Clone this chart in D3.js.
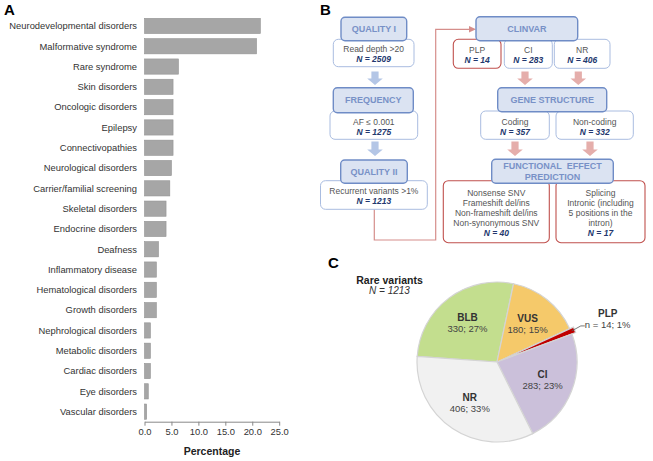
<!DOCTYPE html>
<html>
<head>
<meta charset="utf-8">
<script src="https://cdn.jsdelivr.net/npm/d3@7"></script>
<style>
  body { margin: 0; background: #fff; }
  svg { display: block; font-family: "Liberation Sans", Arial, sans-serif; }
</style>
</head>
<body>
<div id="chart"></div>
<script>
// Panel A data
const disorders = ["Neurodevelopmental disorders", "Malformative syndrome", "Rare syndrome", "Skin disorders",
  "Oncologic disorders", "Epilepsy", "Connectivopathies", "Neurological disorders", "Carrier/familial screening",
  "Skeletal disorders", "Endocrine disorders", "Deafness", "Inflammatory disease", "Hematological disorders",
  "Growth disorders", "Nephrological disorders", "Metabolic disorders", "Cardiac disorders", "Eye disorders",
  "Vascular disorders"];
const percentages = [21.5, 20.8, 6.3, 5.3, 5.3, 5.3, 5.3, 5.0, 4.7, 4.0, 4.0, 2.6, 2.2, 2.2, 2.2, 1.1, 1.1, 1.1, 0.7, 0.4];
const xTicks = [0, 5, 10, 15, 20, 25];

// Panel B texts
const headerTexts = ["QUALITY I", "FREQUENCY", "QUALITY II", "CLINVAR", "GENE STRUCTURE", "FUNCTIONAL  EFFECT|PREDICTION"];
const boxLines = [
  ["Read depth >20"], ["AF ≤ 0.001"], ["Recurrent variants >1%"],
  ["PLP"], ["CI"], ["NR"], ["Coding"], ["Non-coding"],
  ["Nonsense SNV", "Frameshift del/ins", "Non-frameshift del/ins", "Non-synonymous SNV"],
  ["Splicing", "Intronic (including", "5 positions in the", "intron)"]
];
const boxN = [2509, 1275, 1213, 14, 283, 406, 357, 332, 40, 17];

// Panel C data
const pieCategories = ["BLB", "VUS", "PLP", "CI", "NR"];
const pieCounts = [330, 180, 14, 283, 406];
const piePercents = [27, 15, 1, 23, 33];
const pieColors = ["#c3de8e", "#f5c96a", "#c00000", "#cbc0da", "#f1f1f1"];

const W = 653, H = 461;
const svg = d3.select("#chart").append("svg").attr("width", W).attr("height", H);

// ---------- Panel A ----------
svg.append("text").attr("x", 4).attr("y", 15).attr("font-size", 15).attr("font-weight", "bold").text("A");

const x = d3.scaleLinear().domain([0, 25]).range([144.5, 279.2]);
const y = d3.scaleBand().domain(disorders).range([15.8, 421.8]).paddingInner(0.25).paddingOuter(0.125);

const gA = svg.append("g");
gA.selectAll("rect.bar")
  .data(disorders)
  .enter().append("rect")
  .attr("class", "bar")
  .attr("x", x(0))
  .attr("y", d => y(d))
  .attr("width", (d, i) => x(percentages[i]) - x(0))
  .attr("height", y.bandwidth())
  .attr("fill", "#a6a6a6")
  .attr("stroke", "#939393")
  .attr("stroke-width", 0.6);

gA.selectAll("text.lab")
  .data(disorders)
  .enter().append("text")
  .attr("class", "lab")
  .attr("x", 137)
  .attr("y", d => y(d) + y.bandwidth() / 2)
  .attr("dy", "0.35em")
  .attr("text-anchor", "end")
  .attr("font-size", 9.4)
  .attr("fill", "#333")
  .text(d => d);

const xAxis = gA.append("g")
  .attr("transform", "translate(0,421.7)")
  .call(d3.axisBottom(x).tickValues(xTicks).tickFormat(d3.format(".1f")).tickSize(4).tickSizeOuter(0));
xAxis.select(".domain").attr("stroke", "#888");
xAxis.selectAll(".tick line").attr("stroke", "#888");
xAxis.selectAll(".tick text").attr("font-size", 9.4).attr("fill", "#333").attr("font-family", "Liberation Sans, Arial, sans-serif");

gA.append("text").attr("x", 212).attr("y", 455).attr("text-anchor", "middle")
  .attr("font-size", 10.5).attr("font-weight", "bold").attr("fill", "#222").text("Percentage");

// ---------- Panel B ----------
svg.append("text").attr("x", 320).attr("y", 15).attr("font-size", 15).attr("font-weight", "bold").text("B");

const gB = svg.append("g");
const blueSub = "#a9bce0", redSub = "#c0504d";
const lineRed = "#d58e8b";

// layout of the flowchart boxes [x0, y0, x1, y1]
const boxLayout = [
  [333.3, 39.3, 414, 66.7], [330, 111, 417.7, 139.3], [320.5, 180.7, 427.3, 209.3],
  [453.3, 39.3, 501, 68.3], [504.3, 39.3, 552.3, 68.3], [554.3, 39.3, 610, 68.3],
  [480.7, 111, 549.3, 139.3], [556, 111, 633.3, 139.3],
  [443.3, 180.7, 549.3, 242.7], [556, 180.7, 645, 242.7]
];
const boxRed = [false, false, false, true, false, false, false, false, true, true];
const headerLayout = [
  [341, 17.3, 406.7, 40.7], [333.3, 87.7, 413.3, 112.7], [340.7, 160, 407.3, 183.3],
  [476, 16.7, 577.7, 40.7], [497.7, 87.7, 606.7, 111.7], [491.7, 159.3, 613.3, 183.3]
];

// connector line QUALITY II -> CLINVAR
gB.append("path")
  .attr("d", d3.line()([[374.3, 209.3], [374.3, 240], [435.7, 240], [435.7, 29.3], [470, 29.3]]))
  .attr("fill", "none").attr("stroke", lineRed).attr("stroke-width", 1.2);
gB.append("path")
  .attr("d", "M476,29.3 L469,26 L469,32.6 Z")
  .attr("fill", lineRed);

// block arrows
function blockArrow(cx, y0, y1, color) {
  const sw = 3.6, hw = 7.8, hh = 6.5;
  gB.append("path")
    .attr("d", `M${cx - sw},${y0} L${cx + sw},${y0} L${cx + sw},${y1 - hh} L${cx + hw},${y1 - hh} L${cx},${y1} L${cx - hw},${y1 - hh} L${cx - sw},${y1 - hh} Z`)
    .attr("fill", color);
}
const blueArrow = "#b4c6e6", redArrow = "#e5aeab";
[[375, 71.5, 85], [375, 141.5, 156]].forEach(a => blockArrow(a[0], a[1], a[2], blueArrow));
[[525, 71.5, 85], [578.3, 71.5, 85], [515, 141.5, 156], [590, 141.5, 156]].forEach(a => blockArrow(a[0], a[1], a[2], redArrow));

// sub boxes
boxLayout.forEach((b, i) => {
  const g = gB.append("g");
  g.append("rect")
    .attr("x", b[0]).attr("y", b[1]).attr("width", b[2] - b[0]).attr("height", b[3] - b[1])
    .attr("rx", 5).attr("fill", "#fff")
    .attr("stroke", boxRed[i] ? redSub : blueSub).attr("stroke-width", boxRed[i] ? 1.1 : 1);
  const cx = (b[0] + b[2]) / 2;
  const lines = boxLines[i];
  const lh = 10;
  const total = lines.length + 1;
  const top = (b[1] + b[3]) / 2 - (total - 1) * lh / 2 + 1.5;
  lines.forEach((t, k) => {
    g.append("text").attr("x", cx).attr("y", top + k * lh).attr("dy", "0.35em")
      .attr("text-anchor", "middle").attr("font-size", 8.5).attr("fill", "#555").text(t);
  });
  g.append("text").attr("x", cx).attr("y", top + lines.length * lh).attr("dy", "0.35em")
    .attr("text-anchor", "middle").attr("font-size", 8.5).attr("font-weight", "bold")
    .attr("font-style", "italic").attr("fill", "#23386e").text("N = " + boxN[i]);
});

// headers
headerLayout.forEach((b, i) => {
  const g = gB.append("g");
  g.append("rect")
    .attr("x", b[0]).attr("y", b[1]).attr("width", b[2] - b[0]).attr("height", b[3] - b[1])
    .attr("rx", 4).attr("fill", "#dbe3f2").attr("stroke", "#6f8cc6").attr("stroke-width", 1.4);
  const lines = headerTexts[i].split("|");
  const cx = (b[0] + b[2]) / 2, cy = (b[1] + b[3]) / 2;
  lines.forEach((t, k) => {
    g.append("text").attr("x", cx).attr("y", cy + (k - (lines.length - 1) / 2) * 11).attr("dy", "0.36em")
      .attr("text-anchor", "middle").attr("font-size", 9).attr("font-weight", "bold")
      .attr("fill", "#7891c7").attr("xml:space", "preserve").style("white-space", "pre").text(t);
  });
});

// ---------- Panel C ----------
svg.append("text").attr("x", 328).attr("y", 268).attr("font-size", 15).attr("font-weight", "bold").text("C");
svg.append("text").attr("x", 389.5).attr("y", 283.5).attr("text-anchor", "middle")
  .attr("font-size", 10.5).attr("font-weight", "bold").attr("fill", "#222").text("Rare variants");
svg.append("text").attr("x", 389.5).attr("y", 294).attr("text-anchor", "middle")
  .attr("font-size", 10).attr("font-style", "italic").attr("fill", "#333").text("N = " + d3.sum(pieCounts));

const pcx = 497, pcy = 362, R = 80;
const gC = svg.append("g").attr("transform", `translate(${pcx},${pcy})`);
const pie = d3.pie().sort(null).startAngle(-86 * Math.PI / 180).endAngle(274 * Math.PI / 180);
const arcs = pie(pieCounts);
const arc = d3.arc().innerRadius(0).outerRadius(R);
const labelArc = d3.arc().innerRadius(49).outerRadius(49);

gC.selectAll("path.slice")
  .data(arcs)
  .enter().append("path")
  .attr("class", "slice")
  .attr("transform", (d, i) => {
    if (pieCategories[i] !== "PLP") return null;
    const a = (d.startAngle + d.endAngle) / 2;
    return `translate(${Math.sin(a) * 4},${-Math.cos(a) * 4})`;
  })
  .attr("d", arc)
  .attr("fill", (d, i) => pieColors[i])
  .attr("stroke", "#d4d4d4")
  .attr("stroke-width", 1.2);

arcs.forEach((d, i) => {
  if (pieCategories[i] === "PLP") return;
  const [lx, ly] = labelArc.centroid(d);
  gC.append("text").attr("x", lx).attr("y", ly - 5).attr("dy", "0.35em").attr("text-anchor", "middle")
    .attr("font-size", 10).attr("font-weight", "bold").attr("fill", "#333").text(pieCategories[i]);
  gC.append("text").attr("x", lx).attr("y", ly + 6).attr("dy", "0.35em").attr("text-anchor", "middle")
    .attr("font-size", 9.5).attr("fill", "#444").text(pieCounts[i] + "; " + piePercents[i] + "%");
});

// PLP outside label with leader
{
  const i = pieCategories.indexOf("PLP");
  const d = arcs[i];
  const a = (d.startAngle + d.endAngle) / 2;
  const sx = Math.sin(a) * (R + 1), sy = -Math.cos(a) * (R + 1);
  const ex = sx + 13, ey = sy - 5;
  gC.append("path").attr("d", d3.line()([[sx, sy], [ex - 4, ey], [ex, ey]]))
    .attr("fill", "none").attr("stroke", "#555").attr("stroke-width", 0.8);
  gC.append("text").attr("x", ex + 23).attr("y", ey - 12.5).attr("dy", "0.35em").attr("text-anchor", "middle")
    .attr("font-size", 10).attr("font-weight", "bold").attr("fill", "#333").text(pieCategories[i]);
  gC.append("text").attr("x", ex).attr("y", ey - 1).attr("dy", "0.35em").attr("text-anchor", "start")
    .attr("font-size", 9.5).attr("fill", "#444").text("n = " + pieCounts[i] + "; " + piePercents[i] + "%");
}
</script>
</body>
</html>
